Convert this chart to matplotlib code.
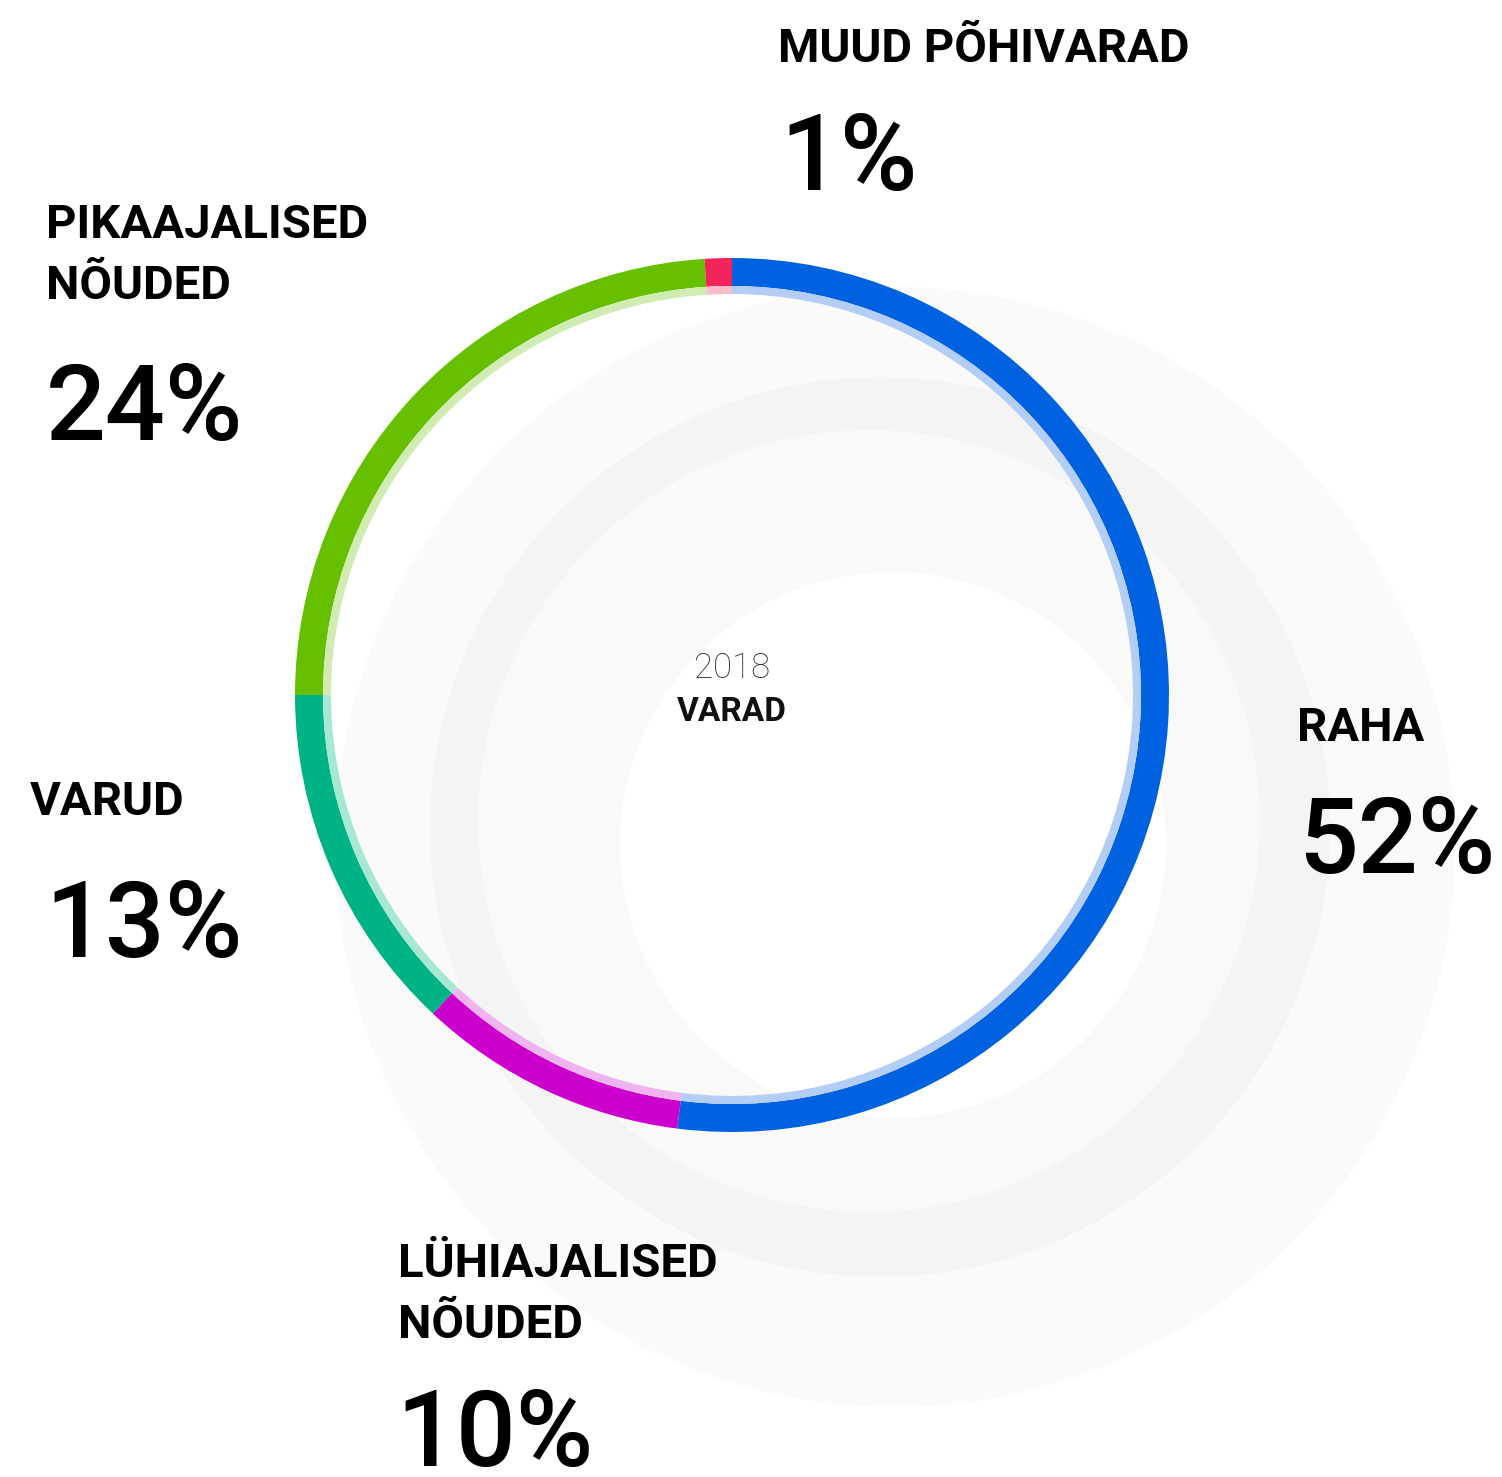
import matplotlib
matplotlib.use("Agg")
import matplotlib.pyplot as plt
from matplotlib.patches import Circle

# data
categories = ["RAHA", "LÜHIAJALISED\nNÕUDED", "VARUD", "PIKAAJALISED\nNÕUDED", "MUUD PÕHIVARAD"]
shares = [52, 10, 13, 24, 1]
colors = ["#0062e0", "#cc00cc", "#00b386", "#66c000", "#f2245a"]
light_colors = ["#b3cdf5", "#efb3ef", "#a6e8d2", "#d1ecb3", "#fcbccc"]
year = "2018"
title = "VARAD"

W, H = 1502, 1477
plt.rcParams['font.family'] = ['Roboto', 'DejaVu Sans']

fig = plt.figure(figsize=(W / 100, H / 100), dpi=100)
ax = fig.add_axes([0, 0, 1, 1])

def py(y):
    # pixel row (from top) -> data y
    return H - y

# faint background circles
ax.add_patch(Circle((895, py(847)), 560, color="#fafafa", lw=0, zorder=0))
ax.add_patch(Circle((880, py(827)), 450, color="#f4f4f4", lw=0, zorder=0))
ax.add_patch(Circle((869, py(821)), 391, color="#f9f9f9", lw=0, zorder=0))
ax.add_patch(Circle((893, py(845)), 273, color="white", lw=0, zorder=0))

# donut ring + pale inner band
cx, cy, r = 732, py(695), 437
ax.pie(shares, colors=colors, radius=r, center=(cx, cy), startangle=90,
       counterclock=False, wedgeprops=dict(width=28, linewidth=0))
ax.pie(shares, colors=light_colors, radius=r - 28, center=(cx, cy), startangle=90,
       counterclock=False, wedgeprops=dict(width=8, linewidth=0))

# centre text
ax.text(cx, py(678), year, ha="center", va="baseline", fontsize=25,
        fontweight="light", color="#333333")
ax.text(cx, py(721), title, ha="center", va="baseline", fontsize=24,
        fontweight="bold", color="#111111")

# outer labels: (x, label baseline, pct baseline)
label_pos = [(1297, 741, 873), (398, 1277, 1466), (30, 815, 957),
             (46, 238, 440), (778, 62, 190)]
pct_x = [1298, 396, 45, 46, 780]
for cat, val, (x, yl, yp), xp in zip(categories, shares, label_pos, pct_x):
    ax.text(x, py(yl), cat.split("\n")[0], ha="left", va="baseline",
            fontsize=34, fontweight="bold", color="black")
    if "\n" in cat:
        ax.text(x, py(yl + 61), cat.split("\n")[1], ha="left", va="baseline",
                fontsize=34, fontweight="bold", color="black")
    ax.text(xp, py(yp), f"{val}%", ha="left", va="baseline",
            fontsize=76, fontweight="medium", color="black")

ax.set_xlim(0, W)
ax.set_ylim(0, H)
ax.set_aspect("equal")
ax.axis("off")

fig.savefig("out.png", dpi=100, facecolor="white")
